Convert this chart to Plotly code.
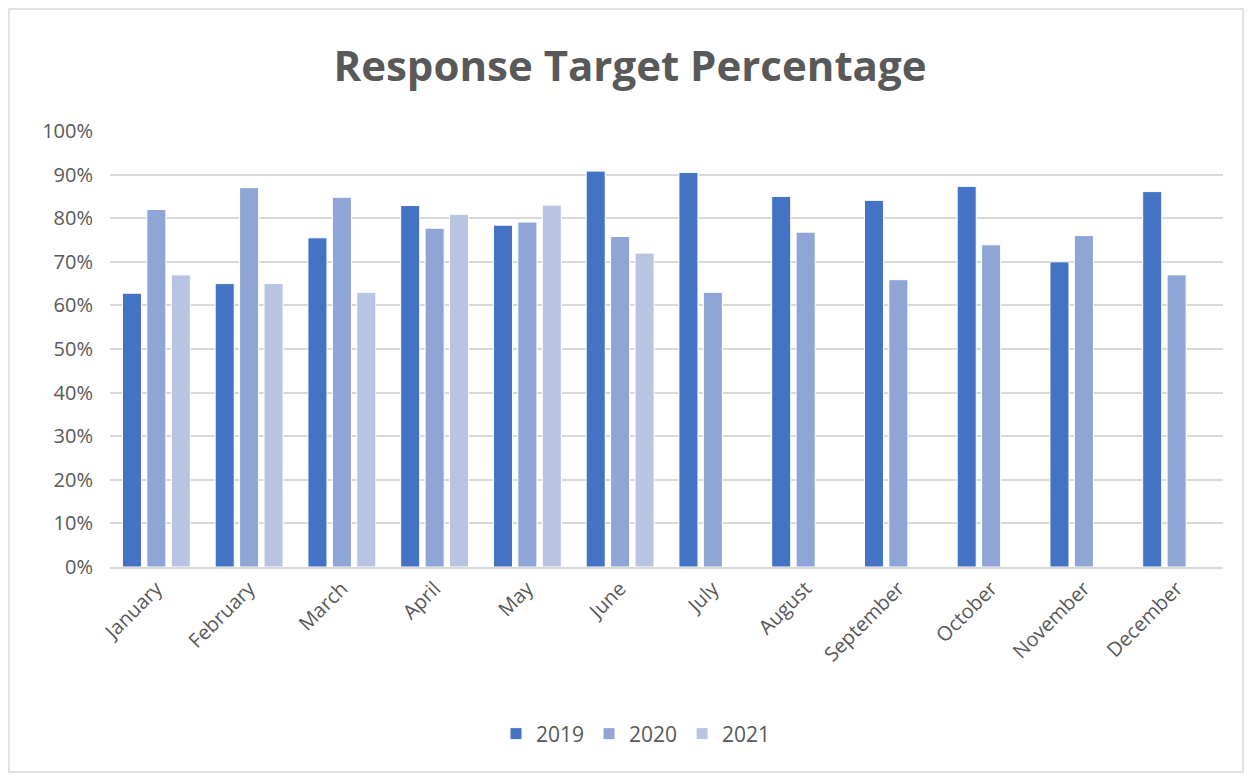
import plotly.graph_objects as go

months = ["January", "February", "March", "April", "May", "June", "July",
          "August", "September", "October", "November", "December"]
v2019 = [62.8, 65.0, 75.5, 82.9, 78.4, 90.8, 90.5, 85.0, 84.1, 87.3, 70.0, 86.1]
v2020 = [82.0, 87.0, 84.8, 77.7, 79.1, 75.8, 63.0, 76.8, 65.9, 73.9, 76.0, 67.0]
v2021 = [67.0, 65.0, 63.0, 80.9, 83.0, 72.0, None, None, None, None, None, None]
series = [("2019", v2019, "#4472C4"), ("2020", v2020, "#8FA5D5"), ("2021", v2021, "#B9C4E3")]
yticks = [0, 10, 20, 30, 40, 50, 60, 70, 80, 90, 100]
ylabels = [f"{t}%" for t in yticks]

fig = go.Figure()
for name, vals, col in series:
    fig.add_trace(go.Bar(x=months, y=vals, name=name, marker_color=col,
                         marker_line_color="white", marker_line_width=1))

# page has an 8px body margin, so the figure is sized/placed accordingly
W, H = 1244, 768
L, R, T, B = 102, 29, 123, 209
pw, ph = W - L - R, H - T - B
def px(x): return (x - L) / pw
def py(y): return (H - B - y) / ph

fig.update_layout(
    width=W, height=H,
    margin=dict(l=L, r=R, t=T, b=B),
    paper_bgcolor="white", plot_bgcolor="white",
    barmode="group", bargap=0.21, bargroupgap=0.22,
    font=dict(family="Open Sans, sans-serif", color="#595959", size=20),
    title=dict(text="<b>Response Target Percentage</b>", x=0.5, xanchor="center",
               y=1 - 58 / H, yanchor="middle",
               font=dict(size=42, color="#595959", family="Open Sans, sans-serif")),
    legend=dict(orientation="h", x=px(628), xanchor="center", y=py(726), yanchor="middle",
                font=dict(size=21, color="#595959"), itemwidth=30, traceorder="normal"),
    showlegend=True,
    shapes=[dict(type="rect", xref="paper", yref="paper",
                 x0=px(1), x1=px(1235), y0=py(764), y1=py(1),
                 line=dict(color="#D9D9D9", width=1.5), layer="below")],
)
fig.update_xaxes(showgrid=False, showline=True, linecolor="#D9D9D9", linewidth=2,
                 tickangle=-45, tickfont=dict(size=20, color="#595959"), ticks="")
fig.update_yaxes(range=[0, 100], tickvals=yticks, ticktext=ylabels, showgrid=True,
                 gridcolor="#D9D9D9", gridwidth=2, zeroline=False,
                 tickfont=dict(size=20, color="#595959"), ticks="", ticklabelstandoff=16)

fig.write_html("out.html")
